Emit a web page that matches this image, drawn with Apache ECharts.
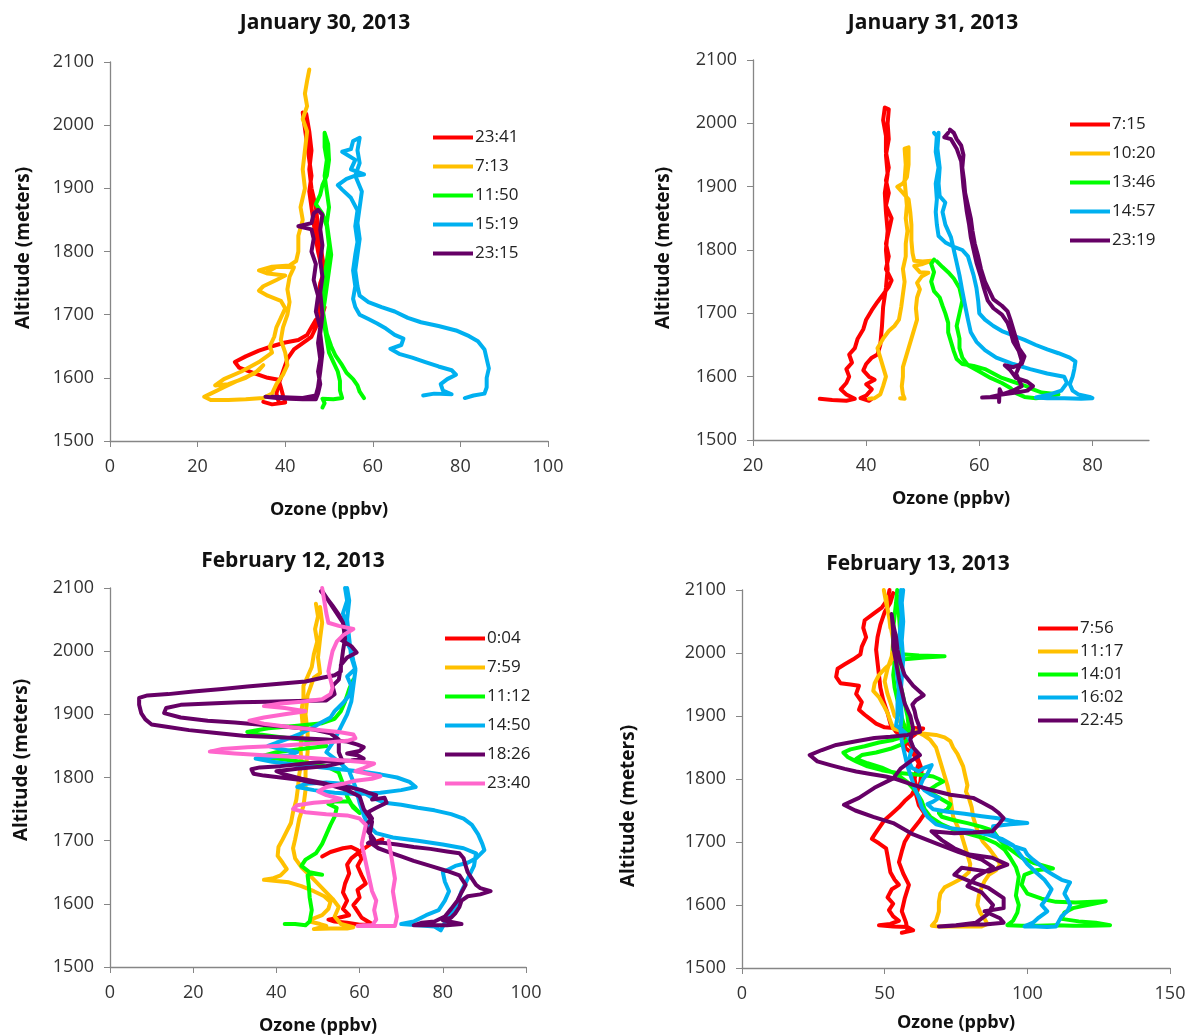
<!DOCTYPE html>
<html>
<head>
<meta charset="utf-8">
<script src="https://cdn.jsdelivr.net/npm/echarts@6/dist/echarts.min.js"></script>
<style>
html, body { margin: 0; padding: 0; background: #fff; }
#main { width: 1189px; height: 1036px; }
</style>
</head>
<body>
<div id="main"></div>
<script>
'use strict';

// ---- panel titles and tick values ----
var panelTitles = ['January 30, 2013', 'January 31, 2013', 'February 12, 2013', 'February 13, 2013'];
var altTicks = [1500, 1600, 1700, 1800, 1900, 2000, 2100];
var ozTicksJan30 = [0, 20, 40, 60, 80, 100];
var ozTicksJan31 = [20, 40, 60, 80];
var ozTicksFeb12 = [0, 20, 40, 60, 80, 100];
var ozTicksFeb13 = [0, 50, 100, 150];

// ---- January 30 profiles: [ozone ppbv, altitude m] ----
var jan30Names = ['23:41', '7:13', '11:50', '15:19', '23:15'];
var jan30_2341 = [[35,1562],[37,1558],[40,1561],[39.5,1572],[39,1585],[38.5,1597],[36,1600],[33,1607],[29.5,1616],[28.5,1625],[31,1634],[34,1643],[37,1650],[40,1656],[43,1660],[45,1668],[46,1680],[47,1692],[48.5,1700],[49,1712],[48,1725],[48.5,1740],[49,1755],[48.5,1770],[48,1785],[47.5,1800],[47,1820],[46.5,1845],[46,1870],[45.5,1895],[46,1920],[45.5,1945],[45,1970],[44.5,1995],[44,2020],[44.8,2018],[45.5,1990],[46,1960],[45.5,1930],[46,1900],[47,1870],[47.5,1840],[48,1810],[48.5,1790],[49,1770],[48,1750],[47.5,1720],[48,1700],[47,1680],[46,1665],[44,1655],[42,1645],[40.5,1630],[39.5,1610],[38.5,1590],[38,1575],[38.5,1562]];
var jan30_713 = [[45.5,2088],[45,2070],[44.5,2050],[45,2030],[44,2010],[45,1990],[44.5,1960],[44,1930],[44.5,1900],[43.5,1870],[44,1850],[43,1825],[43,1800],[42.5,1785],[41,1778],[37,1776],[34,1770],[36,1765],[40,1762],[38,1755],[35,1745],[34,1738],[36,1730],[39,1722],[40,1710],[39,1695],[38,1680],[37.5,1665],[36.5,1650],[37,1640],[34,1625],[30,1610],[26,1598],[24,1588],[27,1590],[31,1600],[34,1612],[35,1620],[33,1607],[29,1595],[26,1585],[23,1575],[21.5,1570],[23,1565],[27,1565],[31,1566],[35,1568],[37,1575],[38,1590],[39.5,1605],[40.5,1620],[40,1640],[39,1660],[39.5,1680],[40.5,1700],[41,1720],[40.5,1740],[41,1760],[42,1775],[38,1776],[36,1768]];
var jan30_1150 = [[48.5,1553],[49,1560],[48.5,1567],[51,1566],[53,1568],[52.5,1580],[52.5,1595],[52,1610],[51,1625],[50,1640],[49.5,1660],[49,1680],[48.5,1700],[49,1720],[49.5,1745],[50,1770],[50.5,1795],[50,1820],[49.5,1845],[50,1870],[49.5,1895],[49,1920],[49.5,1945],[49,1965],[49,1988],[49.8,1970],[50,1945],[49.5,1920],[48.5,1905],[48,1890],[47,1875],[48.5,1860],[49.5,1840],[50,1810],[49.5,1785],[49,1760],[48.5,1735],[48.5,1710],[49,1690],[49.5,1670],[50.5,1650],[51.5,1635],[53,1620],[54,1608],[55.5,1598],[56.5,1588],[57,1578],[58,1568]];
var jan30_1519 = [[71.5,1572],[74,1575],[78,1574],[76,1580],[75.5,1590],[77,1598],[79,1605],[78,1612],[75,1618],[72,1625],[69,1632],[66,1638],[64,1646],[66.5,1652],[67,1662],[65,1668],[63,1678],[61,1686],[59,1693],[57,1700],[56,1712],[55.5,1725],[56,1745],[55.5,1770],[56,1795],[56.5,1815],[56,1840],[56.5,1865],[55,1885],[53,1898],[52,1905],[54,1915],[56,1920],[58,1922],[55,1930],[56,1945],[53,1958],[55,1962],[55.5,1975],[57,1980],[56.5,1960],[57,1940],[56,1920],[57.5,1895],[57,1870],[56.5,1845],[57,1820],[56.5,1795],[56,1770],[56.5,1745],[57,1730],[59,1720],[62,1712],[65,1705],[68,1695],[71,1688],[75,1682],[79,1675],[82,1666],[84,1658],[85.5,1645],[86,1630],[86.5,1615],[86,1600],[86,1585],[85.5,1575],[83,1572],[81,1568]];
var jan30_2315 = [[35.5,1570],[38,1568],[41,1567],[44,1566],[47,1566],[47.5,1575],[48,1590],[47.5,1610],[48,1630],[47.5,1655],[48,1680],[47,1705],[47.5,1730],[46.5,1755],[47,1780],[46,1800],[46.5,1820],[46,1835],[43,1840],[46,1845],[46.5,1860],[47.5,1866],[48.5,1858],[48,1835],[48.5,1810],[48,1785],[48.5,1760],[48,1735],[48.5,1700],[48,1670],[48.5,1640],[48,1610],[47.5,1585],[47,1572],[44,1568],[41,1569],[37,1570]];

// ---- January 31 profiles ----
var jan31Names = ['7:15', '10:20', '13:46', '14:57', '23:19'];
var jan31_715 = [[31.8,1565],[34,1563],[36.5,1562],[38,1565],[36.5,1572],[35.5,1580],[36.5,1590],[37,1600],[36.5,1612],[37.5,1622],[37,1635],[38,1645],[38.5,1660],[39.5,1675],[40,1690],[41,1705],[42,1718],[43,1730],[44,1742],[44.5,1752],[43.5,1770],[44,1790],[43.5,1810],[44,1830],[44.5,1850],[43.5,1870],[44,1890],[43.5,1910],[44,1930],[43.5,1955],[43.5,1980],[43,2005],[43.3,2025],[44,2022],[43.8,2000],[44,1975],[43.5,1950],[43.8,1920],[43.3,1890],[43.5,1860],[43.8,1830],[43.5,1800],[43.8,1770],[43.5,1740],[43,1710],[42.8,1680],[42.5,1650],[42,1635],[41,1630],[40,1620],[39.5,1610],[40.5,1600],[41.5,1595],[40,1588],[41,1580],[40,1570],[39,1566],[40.5,1562],[41,1565]];
var jan31_1020 = [[40.5,1565],[41.5,1566],[42.5,1572],[43,1585],[43.5,1600],[43,1615],[42.5,1630],[42,1645],[43,1660],[44,1672],[45,1680],[45.8,1690],[46.2,1710],[46.5,1730],[46.8,1750],[46.5,1770],[47,1790],[47,1810],[47.3,1830],[47,1850],[47.2,1870],[47,1890],[46.8,1910],[47,1935],[46.8,1960],[47.5,1962],[47.5,1935],[47.2,1915],[46.5,1905],[45.5,1900],[46.5,1890],[47.5,1880],[47.8,1860],[48,1840],[48,1815],[48.2,1795],[48.5,1783],[50,1782],[51.5,1783],[50,1778],[48.5,1775],[49.5,1765],[51,1764],[49.8,1758],[49,1748],[49.5,1738],[49,1725],[48.8,1708],[49,1690],[48.5,1675],[48,1660],[47.5,1645],[47,1630],[46.5,1615],[46.5,1600],[46.3,1585],[46.5,1572],[46.8,1565],[46,1566]];
var jan31_1346 = [[52,1785],[51.5,1778],[52,1765],[51.5,1750],[52,1735],[53,1725],[53.5,1712],[54,1700],[54.5,1685],[54.5,1670],[55,1655],[55.5,1640],[56,1628],[57,1620],[59,1617],[61,1612],[62.5,1605],[64,1598],[66,1592],[68,1586],[69.5,1580],[71,1575],[73,1573],[74,1572],[72,1568],[70,1566],[68,1568],[66.5,1574],[65.5,1582],[64,1590],[62,1598],[60,1608],[58,1618],[57,1630],[56.5,1645],[56.5,1660],[56,1680],[56.5,1700],[57,1720],[56.5,1740],[55.5,1755],[54.5,1765],[53.5,1773],[52.5,1782]];
var jan31_1457 = [[52,1985],[52.5,1980],[52.3,1955],[52.8,1930],[52.3,1905],[52.5,1880],[52.3,1860],[52.5,1840],[52.8,1822],[54,1812],[55.5,1805],[57,1800],[58,1790],[58.5,1775],[59,1760],[59.5,1740],[59.8,1720],[60,1700],[61,1690],[62.5,1680],[64,1672],[66,1665],[68,1658],[70,1650],[72,1643],[74,1637],[76,1630],[77,1624],[76.8,1612],[76.5,1600],[76,1588],[76.5,1578],[77.5,1572],[79.5,1568],[80,1566],[78,1565],[75,1566],[72,1566],[70,1567],[72.5,1572],[74.5,1578],[75.5,1590],[75,1600],[72,1605],[69,1612],[66,1620],[63,1630],[61,1642],[59.5,1655],[58.5,1670],[58,1690],[57.5,1712],[57,1735],[56.5,1760],[56,1780],[55.5,1800],[55,1820],[54,1840],[53.5,1860],[54,1875],[53,1885],[52.8,1905],[53,1930],[52.6,1960],[52.8,1985]];
var jan31_2319 = [[54.8,1990],[55.5,1985],[56,1975],[56.8,1965],[57.2,1950],[57,1930],[57.3,1910],[57.5,1890],[58,1870],[58.5,1850],[58.8,1830],[59.2,1810],[59.8,1790],[60.3,1770],[61,1750],[61.8,1735],[62.5,1722],[64,1712],[65,1703],[65.5,1690],[66,1675],[66.5,1660],[67,1645],[68,1632],[67.5,1620],[66,1615],[64.5,1618],[65.5,1610],[66.5,1598],[68.5,1592],[69.5,1585],[68.5,1578],[66.5,1575],[64,1572],[62,1568],[60.5,1567],[63.5,1568],[63.5,1560],[63.6,1580],[64,1572],[66,1578],[67.5,1585],[67,1595],[66.5,1605],[67.5,1625],[67,1640],[66,1655],[65.5,1672],[65,1685],[64,1698],[62.5,1708],[61.5,1720],[60.8,1740],[60.2,1760],[59.5,1780],[59,1800],[58.5,1820],[58.2,1840],[57.8,1860],[57.5,1880],[57.2,1900],[57,1920],[56.8,1940],[56,1960],[55,1975],[53.8,1978],[54.5,1985]];

// ---- February 12 profiles ----
var feb12Names = ['0:04', '7:59', '11:12', '14:50', '18:26', '23:40'];
var feb12_004 = [[51,1675],[53,1682],[56,1688],[58,1690],[59.5,1685],[60.5,1672],[59.5,1660],[60.5,1645],[61.5,1632],[59.5,1622],[60,1610],[58.5,1598],[59.5,1588],[60.5,1578],[62,1572],[63,1568],[60,1567],[57,1570],[54,1572],[52.5,1575],[55,1578],[57.5,1582],[56,1592],[57,1605],[56,1618],[56.5,1632],[57.5,1648],[57,1662],[58,1672],[60.5,1685],[63,1696],[65.5,1702],[64,1695]];
var feb12_759 = [[49.5,2075],[50,2055],[49.3,2035],[49.8,2015],[49,1995],[48.5,1975],[47.5,1960],[46.5,1945],[46.5,1925],[46,1905],[46.3,1885],[46,1865],[45.8,1845],[46,1825],[45.5,1805],[45.2,1785],[44.8,1765],[44,1745],[43.5,1728],[42.5,1715],[41.5,1702],[40.5,1690],[40.3,1676],[41.5,1665],[42.5,1655],[41,1645],[39,1640],[37,1638],[40,1636],[43,1634],[46,1628],[49,1620],[51.5,1612],[53,1603],[52.5,1592],[51,1582],[49,1577],[48,1572],[50.5,1568],[52,1565],[49,1560],[53,1561],[57,1561],[58.5,1563],[55.5,1568],[54,1580],[55,1595],[53.5,1608],[51,1625],[48.5,1642],[46,1658],[44.5,1672],[44,1688],[44.5,1702],[45,1718],[45.5,1735],[46.5,1755],[47,1780],[47,1810],[47.5,1840],[47.5,1870],[47,1900],[47.5,1930],[49,1958],[50.5,1965],[50,1990],[50.5,2020],[51,2045],[50.5,2070]];
var feb12_1112 = [[42,1568],[44.5,1568],[47,1566],[48,1572],[48.5,1590],[48,1610],[47.8,1628],[47.5,1645],[48.5,1648],[51,1646],[48,1650],[46,1660],[47,1670],[49.5,1680],[51,1695],[52,1710],[53,1725],[54,1738],[54.5,1752],[52.5,1758],[54,1762],[57.5,1762],[58.5,1752],[60,1744],[58,1758],[57,1770],[56,1790],[55,1808],[52,1818],[46,1825],[40,1830],[36,1833],[40,1840],[46,1845],[52,1850],[49,1858],[43,1862],[36,1868],[33,1872],[38,1878],[45,1882],[51,1886],[54,1893],[55.5,1905],[56.5,1920],[57.5,1940],[58.5,1955]];
var feb12_1450 = [[56.5,2100],[57,2080],[56,2060],[57,2040],[56.5,2020],[58,2000],[58.5,1985],[59,1972],[57,1960],[58,1945],[57.5,1930],[56,1918],[54,1905],[53,1895],[51,1888],[49,1880],[46,1870],[43,1862],[40,1855],[38,1850],[41,1845],[45,1840],[43,1835],[38,1832],[35,1830],[39,1825],[45,1820],[51,1816],[57,1812],[62,1808],[65,1805],[69,1800],[72,1793],[73.5,1785],[70,1780],[65,1776],[59,1774],[54,1776],[49,1780],[45,1785],[47,1790],[52,1792],[56,1790],[60,1780],[63,1768],[66,1760],[70,1757],[74,1752],[78,1748],[82,1742],[85,1735],[87,1725],[88.5,1710],[89.5,1695],[90,1685],[88,1672],[86,1665],[83,1660],[80,1650],[80.5,1635],[81.5,1620],[80.5,1605],[79,1590],[76,1582],[73,1572],[70,1568],[74,1566],[78,1564],[79.5,1558],[80.5,1570],[82,1585],[83.5,1600],[84.5,1620],[86,1640],[87.5,1660],[88,1680],[85,1688],[80,1694],[74,1700],[68,1705],[64,1712],[62,1725],[61,1740],[60,1760],[59,1785],[57.5,1810],[55,1825],[52,1840],[54,1860],[55.5,1880],[57,1900],[58,1920],[58.5,1945],[59,1970],[58,1990],[57.5,2020],[57,2050],[57.5,2080],[57,2100]];
var feb12_1826 = [[50.7,2095],[52,2085],[53.5,2072],[55,2058],[56,2045],[56.5,2030],[55.5,2018],[58,2008],[59.3,1998],[57,1990],[55.5,1978],[55.5,1968],[54,1962],[51,1958],[47,1952],[40,1948],[33,1944],[27,1940],[20,1936],[14,1932],[9,1930],[7,1926],[7,1915],[7.5,1902],[8.5,1892],[10,1884],[14,1880],[19,1875],[25,1871],[32,1866],[39,1864],[46,1862],[52,1860],[57,1857],[59.5,1852],[61,1848],[60,1842],[57,1838],[59.5,1835],[61,1830],[58,1827],[53,1826],[47,1822],[41,1818],[36,1816],[34,1813],[34.5,1806],[37,1803],[41,1800],[45,1797],[48,1793],[51,1790],[53,1788],[55,1786],[58,1784],[60.5,1780],[62,1776],[64,1772],[63,1765],[66,1768],[66.5,1760],[64,1752],[62,1745],[63,1735],[61.5,1725],[62,1715],[63.5,1702],[62,1696],[65,1697],[69,1694],[73,1690],[77,1687],[81,1683],[84,1680],[85,1672],[85.5,1660],[86,1650],[87,1640],[88,1630],[89,1625],[91.5,1620],[89,1615],[86,1612],[84.5,1605],[84,1595],[83,1585],[82,1578],[80,1574],[83,1570],[84.5,1568],[81,1566],[77,1566],[73,1566],[75,1570],[78,1572],[80.5,1580],[82,1592],[83.5,1605],[84.5,1618],[85.5,1630],[84,1645],[81,1652],[77,1660],[73,1668],[70,1675],[67,1682],[64.5,1688],[63,1695],[62.5,1712],[63,1730],[61,1750],[60,1770],[57,1780],[52,1790],[46,1798],[42,1805],[40,1810],[45,1814],[52,1818],[56,1824],[55,1840],[55,1860],[53,1870],[49,1876],[43,1880],[37,1883],[30,1887],[23.5,1890],[17,1895],[13,1902],[13.5,1910],[17,1915],[24,1917],[31,1919],[38,1920],[45,1921],[52,1922],[54,1932],[53.5,1945],[55,1955],[55.5,1975],[56,2000],[56.5,2020],[56,2045],[54,2065],[52,2085],[51,2095]];
var feb12_2340 = [[67,1700],[67.5,1680],[68,1660],[68.5,1640],[68,1620],[68.5,1600],[69,1580],[68.5,1565],[65,1565],[61,1565],[59.5,1565],[61,1566],[63,1566],[64,1575],[63.5,1590],[64,1605],[63,1620],[62.5,1635],[62,1650],[61.5,1665],[61,1680],[60.5,1695],[61,1710],[61.5,1725],[60,1735],[57,1740],[52,1742],[47,1745],[44,1750],[45,1756],[49,1760],[53,1762],[55.5,1766],[52,1772],[50,1778],[52,1785],[56,1790],[59,1795],[63,1798],[65,1802],[62,1806],[59,1810],[61,1815],[63.5,1822],[60,1825],[54,1828],[46,1832],[38,1835],[30,1838],[24,1841],[27,1845],[33,1848],[40,1850],[47,1853],[53,1856],[57,1858],[59,1862],[58.5,1868],[55,1872],[49,1876],[43,1880],[37,1885],[33.5,1890],[37,1895],[42,1900],[47,1905],[42,1910],[37,1913],[41,1917],[46,1920],[51,1924],[53,1932],[53.5,1942],[53,1955],[52.5,1968],[53,1985],[53.5,2000],[54.5,2015],[56,2025],[58.5,2035],[55,2040],[52.5,2045],[52,2060],[51.5,2080],[51,2100]];

// ---- February 13 profiles ----
var feb13Names = ['7:56', '11:17', '14:01', '16:02', '22:45'];
var feb13_756 = [[51.7,2100],[51,2085],[49,2072],[46,2062],[43,2052],[42.5,2040],[43.5,2025],[42,2010],[41.5,1998],[39,1990],[36,1982],[33.5,1975],[33,1962],[34.5,1952],[38,1950],[41,1948],[40,1935],[42,1922],[41,1910],[43,1902],[45,1895],[47,1888],[50,1882],[55,1880],[60,1881],[63.5,1880],[61,1872],[58,1862],[57,1850],[60,1840],[62,1825],[61,1812],[60.5,1800],[61,1788],[59.5,1775],[57,1765],[55,1755],[52.5,1745],[50,1735],[48,1722],[46.5,1712],[45.5,1705],[48,1698],[50.5,1690],[51,1678],[51.5,1665],[52,1652],[53.5,1640],[55,1632],[52.5,1625],[51,1612],[53,1602],[51.5,1592],[53,1582],[55,1575],[52,1570],[48,1568],[53,1566],[58,1565],[60,1560],[56,1556],[58,1558],[57.5,1572],[56,1590],[57,1610],[58.5,1632],[56.5,1650],[55,1668],[56,1685],[57,1700],[59,1715],[62,1732],[64,1745],[62,1758],[61,1775],[62.5,1795],[63,1815],[61,1840],[58,1860],[54,1875],[52,1888],[51,1905],[49.5,1925],[48.5,1945],[48,1965],[47.5,1985],[47,2005],[47.5,2025],[48.5,2045],[50,2065],[52,2080],[53,2095]];
var feb13_1117 = [[49.7,2100],[50.5,2080],[51.5,2060],[52,2040],[54.5,2025],[55.5,2012],[53.5,2000],[52.5,1985],[50,1975],[48,1965],[46.5,1952],[46,1940],[48,1930],[49.5,1918],[51,1905],[52,1892],[53,1880],[56,1876],[60,1874],[64,1872],[68,1870],[71,1866],[73,1860],[74,1850],[75.5,1840],[76.5,1830],[77.5,1820],[78,1810],[78.5,1800],[79,1790],[78.5,1780],[79.5,1770],[80.5,1755],[81,1740],[82,1725],[83,1712],[84.5,1700],[86.5,1690],[88.5,1678],[90.5,1665],[89,1655],[86.5,1648],[85,1638],[84,1628],[83,1615],[82.5,1600],[83.5,1588],[85,1578],[86,1570],[84,1566],[80,1566],[74,1566],[69,1566],[66.5,1567],[68,1575],[69,1590],[69,1605],[69.5,1618],[71,1628],[74,1635],[77,1642],[79.5,1652],[80,1665],[79,1680],[78,1695],[77,1710],[75.5,1725],[74,1740],[73.5,1755],[73,1770],[72,1790],[71,1805],[70,1820],[69,1835],[68,1850],[66,1862],[63.5,1870],[60,1878],[56,1888],[53.5,1900],[52.5,1915],[51,1935],[50,1955],[51,1975],[52.5,1995],[53,2020],[52,2045],[51,2070],[50.5,2090]];
var feb13_1401 = [[54.4,2100],[54,2080],[53.5,2060],[53,2040],[53,2020],[53,2005],[56,1998],[62,1996],[71,1995],[64,1993],[57,1990],[53.5,1985],[53,1965],[53.5,1945],[54.5,1925],[55.5,1905],[56.5,1890],[57.5,1875],[56,1866],[53,1862],[48,1858],[43,1852],[38,1847],[35.5,1842],[37,1835],[40,1828],[44,1820],[49,1814],[54,1810],[59,1808],[64,1806],[67,1804],[69,1800],[70.5,1796],[68,1790],[66,1784],[67,1776],[70,1768],[73,1760],[72,1752],[69,1746],[70,1740],[74,1735],[79,1730],[84,1724],[88,1718],[90,1705],[92,1695],[95,1685],[98,1675],[102,1667],[106,1662],[109,1658],[103,1655],[99,1648],[98,1632],[100,1618],[105,1610],[110,1605],[117,1604],[123,1605],[127.5,1606],[121,1600],[116,1595],[113,1588],[112,1578],[118,1574],[124,1572],[129,1568],[122,1567],[116,1567],[110,1568],[104,1567],[98,1567],[93,1568],[95,1575],[96.5,1588],[97,1600],[96,1615],[96.5,1630],[97,1645],[96,1660],[94,1675],[92,1688],[89,1698],[85,1706],[80,1712],[75,1718],[70,1728],[66,1740],[64,1752],[63,1765],[61,1780],[58,1795],[54,1808],[49,1818],[44,1825],[40,1832],[42,1838],[47,1842],[52,1848],[56,1855],[58,1862],[58.5,1880],[58,1900],[57,1920],[56,1940],[55,1960],[54.5,1980],[55,2000],[55.5,2030],[55,2060],[54.5,2090]];
var feb13_1602 = [[55.7,2100],[55.5,2080],[56,2060],[55.5,2040],[55,2020],[54.5,2000],[54,1980],[54.5,1960],[55,1940],[54.5,1920],[54.5,1900],[54,1885],[56,1878],[58,1870],[59,1860],[60,1850],[59,1840],[58.5,1828],[59.5,1818],[62,1812],[64,1818],[66.5,1822],[65,1808],[63.5,1800],[62.5,1790],[64,1782],[66,1776],[69,1770],[67,1764],[65,1760],[67,1752],[72,1748],[78,1745],[84,1741],[89,1738],[93,1735],[96,1732],[100,1730],[94,1728],[88,1725],[88,1715],[90,1705],[93,1698],[96,1692],[99,1688],[100,1680],[102,1672],[104,1665],[106.5,1655],[109,1648],[112,1640],[115,1636],[114,1628],[113,1618],[114,1610],[115,1600],[114,1590],[112,1582],[111,1574],[110,1566],[107,1565],[103,1566],[99,1566],[102,1572],[104,1580],[107,1590],[105,1600],[107,1612],[108.5,1625],[106,1640],[103,1652],[100,1665],[97.5,1680],[95,1695],[91,1705],[86,1712],[80,1718],[73,1722],[68,1728],[65,1740],[63,1755],[62,1770],[60.5,1785],[59.5,1800],[58,1820],[57,1840],[56,1860],[55.5,1880],[56,1900],[55.5,1930],[56,1960],[56.5,1990],[56,2020],[56.5,2050],[56,2080],[56.5,2100]];
var feb13_2245 = [[52.4,2062],[53,2045],[54,2025],[54.5,2005],[55.5,1985],[57,1965],[60,1948],[63.7,1933],[61,1925],[59.7,1918],[60.5,1908],[61,1897],[62,1885],[62.4,1875],[58,1870],[52,1867],[46.4,1865],[40,1860],[33,1854],[28,1846],[23.7,1838],[26.4,1828],[31,1822],[36,1816],[40,1812],[45,1808],[50.4,1804],[54,1800],[59.7,1791],[66,1783],[73,1775],[78,1772],[81,1770],[84,1763],[87.7,1754],[90,1746],[91.7,1738],[90,1728],[87.7,1717],[81,1715],[74.4,1714],[66.4,1717],[70,1703],[74.4,1690],[79.7,1680],[87.7,1675],[93,1664],[86.4,1653],[77,1659],[74.4,1648],[79.7,1638],[86.4,1627],[91.7,1611],[91.7,1595],[85,1590],[90.4,1579],[91.7,1572],[85,1569],[79.7,1569],[74,1567],[69,1566],[75,1568],[82,1572],[86,1585],[88,1600],[84,1620],[79,1630],[82,1645],[88,1660],[84,1672],[76,1684],[68,1698],[60,1712],[53,1730],[46,1740],[39.7,1750],[35.7,1759],[41,1770],[46.4,1786],[53,1801],[55.7,1817],[59,1828],[62.4,1838],[60,1850],[59,1862],[60,1880],[59,1900],[57,1920],[56,1940],[55,1960],[54,1985],[53,2010],[53,2035],[52.5,2060]];

var colors = ['#FF0000', '#FFC000', '#00FF00', '#00B0F0', '#660066', '#FF66CC'];

var panels = [
  { names: jan30Names, data: [jan30_2341, jan30_713, jan30_1150, jan30_1519, jan30_2315], ticks: ozTicksJan30, max: 100 },
  { names: jan31Names, data: [jan31_715, jan31_1020, jan31_1346, jan31_1457, jan31_2319], ticks: ozTicksJan31, max: 90 },
  { names: feb12Names, data: [feb12_004, feb12_759, feb12_1112, feb12_1450, feb12_1826, feb12_2340], ticks: ozTicksFeb12, max: 100 },
  { names: feb13Names, data: [feb13_756, feb13_1117, feb13_1401, feb13_1602, feb13_2245], ticks: ozTicksFeb13, max: 150 }
];

// layout of the four plots (pixels)
var grids = [
  { left: 110, top: 62, width: 438, height: 379 },
  { left: 753, top: 60, width: 396, height: 380 },
  { left: 110, top: 588, width: 416, height: 379 },
  { left: 742, top: 590, width: 428, height: 378 }
];
var titlePos = [[320, 8], [928, 8], [288, 546], [913, 549]];
var legendPos = [[433, 129], [1070, 116], [445, 630], [1038, 620]];
var legendGap = [12, 12, 12, 6];
var yNamePos = [[24, 248], [664, 248], [22, 760], [629, 806]];
var xNameGap = [60, 50, 50, 46];

var axisGray = '#868686';
var font = '"Open Sans", sans-serif';

var option = {
  backgroundColor: '#fff',
  animation: false,
  title: [],
  legend: [],
  grid: [],
  xAxis: [],
  yAxis: [],
  series: [],
  graphic: []
};

panels.forEach(function (p, i) {
  option.grid.push(grids[i]);
  option.title.push({
    text: panelTitles[i],
    left: titlePos[i][0],
    top: titlePos[i][1],
    textAlign: 'center',
    textStyle: { fontFamily: font, fontWeight: 'bold', fontSize: 21, color: '#111' }
  });
  option.xAxis.push({
    type: 'value',
    gridIndex: i,
    min: p.ticks[0],
    max: p.max,
    interval: p.ticks[1] - p.ticks[0],
    name: 'Ozone (ppbv)',
    nameLocation: 'middle',
    nameGap: xNameGap[i],
    nameTextStyle: { fontFamily: font, fontWeight: 'bold', fontSize: 18, color: '#111' },
    axisLine: { lineStyle: { color: axisGray, width: 1.3 } },
    axisTick: { show: true, length: 6, lineStyle: { color: axisGray }, customValues: p.ticks },
    axisLabel: { fontFamily: font, fontSize: 18, color: '#333', margin: 17, customValues: p.ticks },
    splitLine: { show: false }
  });
  option.yAxis.push({
    type: 'value',
    gridIndex: i,
    min: altTicks[0],
    max: altTicks[altTicks.length - 1],
    interval: altTicks[1] - altTicks[0],
    axisLine: { show: true, lineStyle: { color: axisGray, width: 1.3 } },
    axisTick: { show: true, length: 6, lineStyle: { color: axisGray } },
    axisLabel: {
      fontFamily: font, fontSize: 18, color: '#333', margin: 16,
      formatter: function (v) { return String(v); }
    },
    splitLine: { show: false }
  });
  option.graphic.push({
    type: 'text',
    x: yNamePos[i][0],
    y: yNamePos[i][1],
    rotation: Math.PI / 2,
    style: {
      text: 'Altitude (meters)',
      font: 'bold 19px "Open Sans", sans-serif',
      fill: '#111',
      align: 'center',
      verticalAlign: 'middle',
      textAlign: 'center',
      textVerticalAlign: 'middle'
    }
  });
  option.legend.push({
    orient: 'vertical',
    left: legendPos[i][0],
    top: legendPos[i][1],
    data: p.names,
    icon: 'rect',
    itemWidth: 40,
    itemHeight: 4,
    itemGap: legendGap[i],
    padding: 0,
    selectedMode: false,
    textStyle: { fontFamily: font, fontSize: 17, color: '#222', padding: [0, 0, 0, -3] }
  });
  p.data.forEach(function (d, k) {
    option.series.push({
      name: p.names[k],
      type: 'line',
      xAxisIndex: i,
      yAxisIndex: i,
      data: d,
      showSymbol: false,
      symbol: 'none',
      color: colors[k],
      lineStyle: { width: 4, color: colors[k], join: 'round', cap: 'round' },
      clip: false
    });
  });
});

var chart = echarts.init(document.getElementById('main'));
chart.setOption(option);
</script>
</body>
</html>
